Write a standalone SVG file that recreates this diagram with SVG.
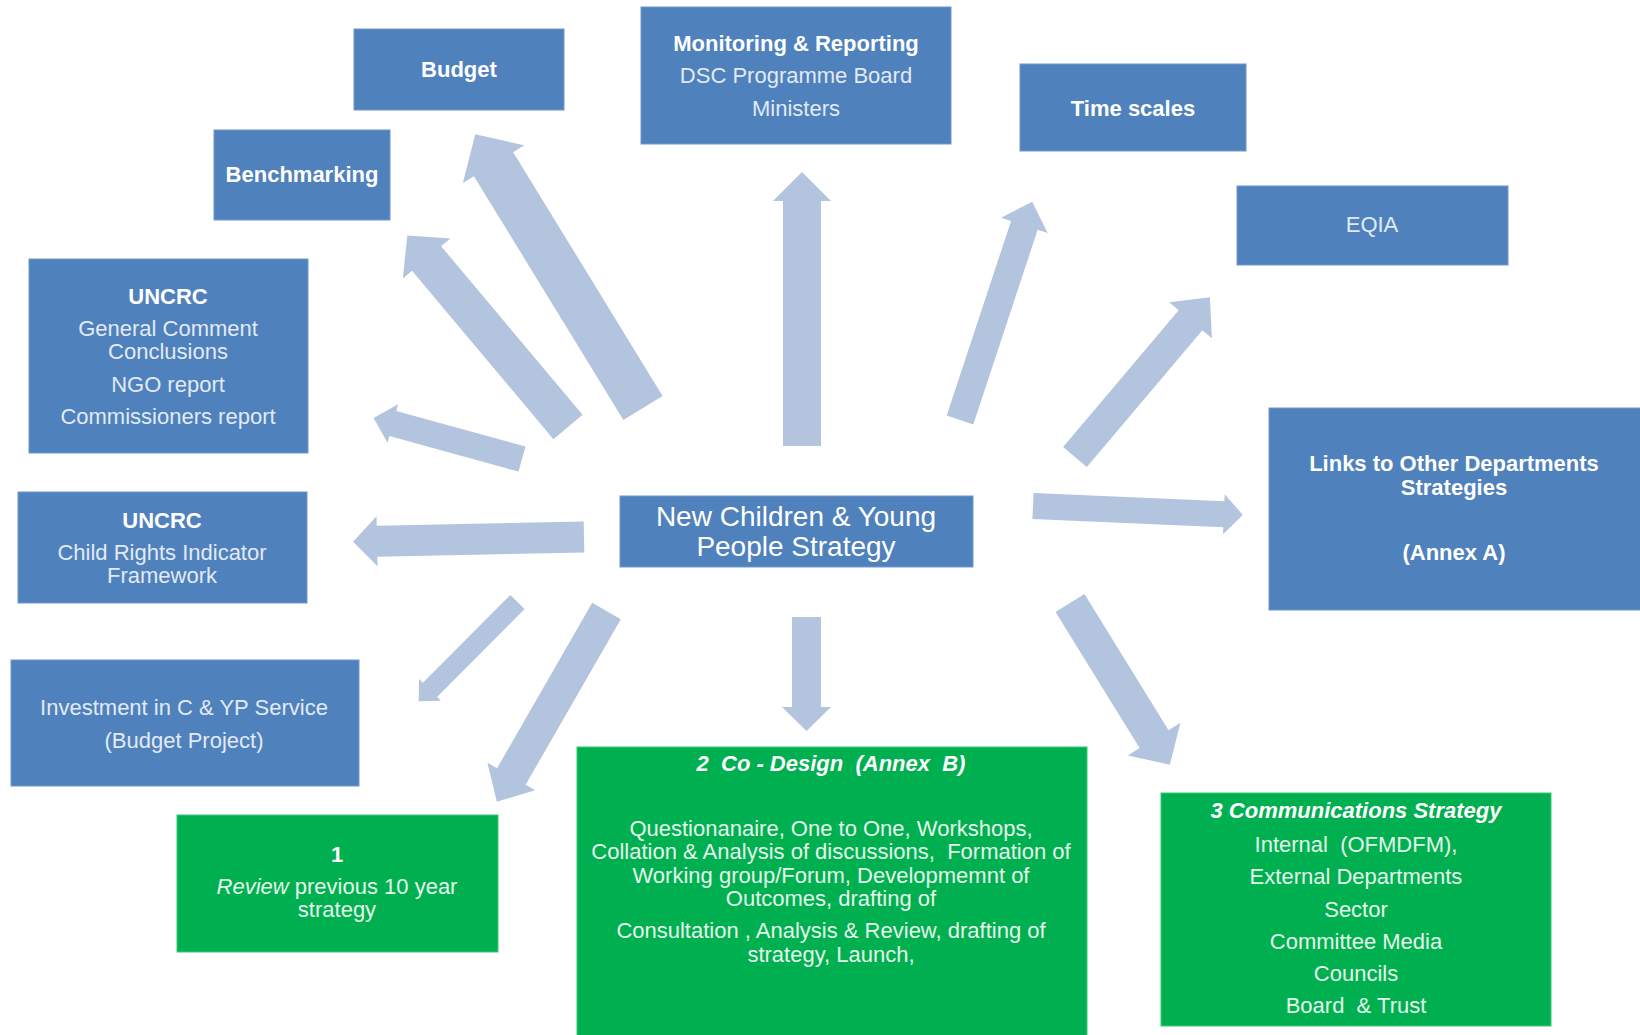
<svg xmlns="http://www.w3.org/2000/svg" width="1640" height="1035" viewBox="0 0 1640 1035">
<style>
  .blue { fill:#4F81BD; stroke:#7098CC; stroke-width:1; }
  .green { fill:#00B050; stroke:#3CC878; stroke-width:1; }
  .arrow { fill:#B3C4DF; }
  text { font-family:"Liberation Sans", Arial, Helvetica, sans-serif; font-size:22px; text-anchor:middle; }
  .b { font-weight:bold; fill:#FFFFFF; }
  .r { fill:#E2EAF5; }
  .gr { fill:#E4F6EA; }
  .bi { font-weight:bold; font-style:italic; fill:#FFFFFF; }
  .big { font-size:28px; fill:#FFFFFF; }
</style>
<rect width="1640" height="1035" fill="#FFFFFF"/>

<g id="connectors">
  <!-- local arrow: tail at 0,0 pointing +x -->
  <polygon class="arrow" transform="translate(643,408) rotate(-121.5)" points="0,-23 286,-23 286,-36 321,0 286,36 286,23 0,23"/>
  <polygon class="arrow" transform="translate(568,427) rotate(-130)" points="0,-19 220,-19 220,-31 250,0 220,31 220,19 0,19"/>
  <polygon class="arrow" transform="translate(522,459) rotate(-164.6)" points="0,-13 134,-13 134,-20 154,0 134,20 134,13 0,13"/>
  <polygon class="arrow" transform="translate(584,537) rotate(178.8)" points="0,-15.5 207,-15.5 207,-25 231,0 207,25 207,15.5 0,15.5"/>
  <polygon class="arrow" transform="translate(517.5,602) rotate(134.9)" points="0,-10 124,-10 124,-15.5 140,0 124,15.5 124,10 0,10"/>
  <polygon class="arrow" transform="translate(606.5,611) rotate(119.9)" points="0,-16.5 191,-16.5 191,-27.5 220,0 191,27.5 191,16.5 0,16.5"/>
  <polygon class="arrow" transform="translate(806.5,617) rotate(90)" points="0,-14.5 90,-14.5 90,-24.5 114,0 90,24.5 90,14.5 0,14.5"/>
  <polygon class="arrow" transform="translate(1070,603) rotate(58.3)" points="0,-17 160,-17 160,-31 190,0 160,31 160,17 0,17"/>
  <polygon class="arrow" transform="translate(1033,506) rotate(2.45)" points="0,-13 191,-13 191,-20 210,0 191,20 191,13 0,13"/>
  <polygon class="arrow" transform="translate(1075,457) rotate(-49.8)" points="0,-15.5 179,-15.5 179,-28 209,0 179,28 179,15.5 0,15.5"/>
  <polygon class="arrow" transform="translate(960,420) rotate(-71.7)" points="0,-14 205,-14 205,-24.5 230,0 205,24.5 205,14 0,14"/>
  <polygon class="arrow" transform="translate(802,446) rotate(-90)" points="0,-19 245,-19 245,-29 274,0 245,29 245,19 0,19"/>
</g>

<g id="budget">
  <rect class="blue" x="354" y="29" width="210" height="81"/>
  <text class="b" x="459" y="77">Budget</text>
</g>

<g id="benchmarking">
  <rect class="blue" x="214" y="130" width="176" height="90"/>
  <text class="b" x="302" y="182">Benchmarking</text>
</g>

<g id="monitoring">
  <rect class="blue" x="641" y="7" width="310" height="137"/>
  <text class="b" x="796" y="51">Monitoring &amp; Reporting</text>
  <text class="r" x="796" y="83">DSC Programme Board</text>
  <text class="r" x="796" y="116">Ministers</text>
</g>

<g id="timescales">
  <rect class="blue" x="1020" y="64" width="226" height="87"/>
  <text class="b" x="1133" y="116">Time scales</text>
</g>

<g id="eqia">
  <rect class="blue" x="1237" y="186" width="271" height="79"/>
  <text class="r" x="1372" y="232">EQIA</text>
</g>

<g id="uncrc1">
  <rect class="blue" x="29" y="259" width="279" height="194"/>
  <text class="b" x="168" y="304">UNCRC</text>
  <text class="r" x="168" y="336">General Comment</text>
  <text class="r" x="168" y="359">Conclusions</text>
  <text class="r" x="168" y="392">NGO report</text>
  <text class="r" x="168" y="424">Commissioners report</text>
</g>

<g id="uncrc2">
  <rect class="blue" x="18" y="492" width="289" height="111"/>
  <text class="b" x="162" y="528">UNCRC</text>
  <text class="r" x="162" y="560">Child Rights Indicator</text>
  <text class="r" x="162" y="583">Framework</text>
</g>

<g id="centre">
  <rect class="blue" x="620" y="496" width="353" height="71"/>
  <text class="big" x="796" y="526">New Children &amp; Young</text>
  <text class="big" x="796" y="556">People Strategy</text>
</g>

<g id="links">
  <rect class="blue" x="1269" y="408" width="372" height="202"/>
  <text class="b" x="1454" y="471">Links to Other Departments</text>
  <text class="b" x="1454" y="495">Strategies</text>
  <text class="b" x="1454" y="560">(Annex A)</text>
</g>

<g id="investment">
  <rect class="blue" x="11" y="660" width="348" height="126"/>
  <text class="r" x="184" y="715">Investment in C &amp; YP Service</text>
  <text class="r" x="184" y="748">(Budget Project)</text>
</g>

<g id="review">
  <rect class="green" x="177" y="815" width="321" height="137"/>
  <text class="b" x="337" y="862">1</text>
  <text class="gr" x="337" y="894"><tspan font-style="italic">Review</tspan> previous  10 year</text>
  <text class="gr" x="337" y="917">strategy</text>
</g>

<g id="codesign">
  <rect class="green" x="577" y="747" width="510" height="290"/>
  <text class="bi" x="831" y="771" xml:space="preserve">2  Co - Design  (Annex  B)</text>
  <text class="gr" x="831" y="836">Questionanaire, One to One, Workshops,</text>
  <text class="gr" x="831" y="859" xml:space="preserve">Collation &amp; Analysis of discussions,  Formation of</text>
  <text class="gr" x="831" y="883">Working group/Forum, Developmemnt of</text>
  <text class="gr" x="831" y="906">Outcomes, drafting of</text>
  <text class="gr" x="831" y="938">Consultation , Analysis &amp; Review, drafting of</text>
  <text class="gr" x="831" y="962">strategy, Launch,</text>
</g>

<g id="comms">
  <rect class="green" x="1161" y="793" width="390" height="233"/>
  <text class="bi" x="1356" y="818">3 Communications Strategy</text>
  <text class="gr" x="1356" y="852" xml:space="preserve">Internal  (OFMDFM),</text>
  <text class="gr" x="1356" y="884">External Departments</text>
  <text class="gr" x="1356" y="917">Sector</text>
  <text class="gr" x="1356" y="949">Committee Media</text>
  <text class="gr" x="1356" y="981">Councils</text>
  <text class="gr" x="1356" y="1013" xml:space="preserve">Board  &amp; Trust</text>
</g>
</svg>
